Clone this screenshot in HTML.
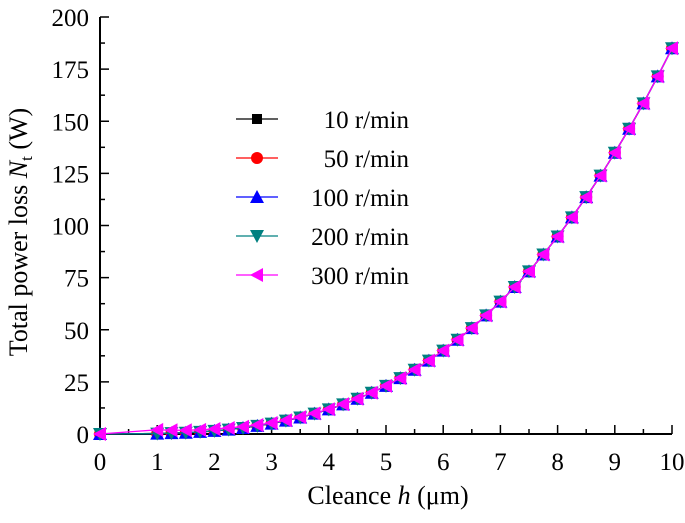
<!DOCTYPE html>
<html><head><meta charset="utf-8"><style>
body{margin:0;background:#fff}
svg text{font-family:"Liberation Serif",serif;fill:#000}
</style></head><body>
<svg id="c" width="685" height="518"></svg>
<script>
const hVals=[0,1,1.25,1.5,1.75,2,2.25,2.5,2.75,3,3.25,3.5,3.75,4,4.25,4.5,4.75,5,5.25,5.5,5.75,6,6.25,6.5,6.75,7,7.25,7.5,7.75,8,8.25,8.5,8.75,9,9.25,9.5,9.75,10];
const base=[0,0.2,0.4,0.6,1.0,1.5,2.1,2.9,3.9,5.0,6.4,7.9,9.8,11.8,14.2,16.9,19.8,23.1,26.8,30.8,35.2,40.0,45.2,50.8,56.9,63.5,70.5,78.0,86.1,94.7,103.9,113.6,123.9,134.9,146.4,158.6,171.5,185];
const s300=[0,2.0,1.8,1.8,2.0,2.4,2.9,3.5,4.3,5.3,6.6,8.1,9.9,11.9,14.3,16.9,19.8,23.1,26.8,30.8,35.2,40.0,45.2,50.8,56.9,63.5,70.5,78.0,86.1,94.7,103.9,113.6,123.9,134.9,146.4,158.6,171.5,185];
const seriesNames=["10 r/min","50 r/min","100 r/min","200 r/min","300 r/min"];
const seriesVals=[base,base,base,base,s300];
const xTicks=[0,1,2,3,4,5,6,7,8,9,10];
const yTicks=[0,25,50,75,100,125,150,175,200];
const colors=["#000","#f00","#00f","#008080","#f0f"];
const markers=["square","circle","up","down","left"];
const NS="http://www.w3.org/2000/svg",svg=document.getElementById("c");
const X0=100,X1=672,Y0=434,Y1=17;
const xs=v=>X0+(X1-X0)*v/10, ys=v=>Y0-(Y0-Y1)*v/200;
function mk(t,a,p){const e=document.createElementNS(NS,t);for(const k in a)e.setAttribute(k,a[k]);(p||svg).appendChild(e);return e;}
let ax=mk("line",{x1:X0,y1:Y0,x2:X1,y2:Y0,stroke:"#000","stroke-width":2});

ax=mk("line",{x1:X0,y1:Y0+1,x2:X0,y2:Y1,stroke:"#000","stroke-width":2});

for(let i=0;i<=20;i++){const v=i/2,x=xs(v);mk("line",{x1:x,y1:Y0,x2:x,y2:Y0-(i%2?5:9),stroke:"#000","stroke-width":1.5});}
xTicks.forEach(v=>{const t=mk("text",{x:xs(v),y:Y0+36,"text-anchor":"middle","font-size":25});t.textContent=v;
});
for(let i=0;i<=16;i++){const v=i*12.5,y=ys(v);mk("line",{x1:X0,y1:y,x2:X0+(i%2?5:9),y2:y,stroke:"#000","stroke-width":1.5});}
yTicks.forEach(v=>{const t=mk("text",{x:X0-11,y:ys(v)+9,"text-anchor":"end","font-size":25});t.textContent=v;
});
let t=mk("text",{x:388,y:504,"text-anchor":"middle","font-size":26});
t.innerHTML='Cleance <tspan font-style="italic">h</tspan> (μm)';

t=mk("text",{x:0,y:0,"text-anchor":"middle","font-size":26,transform:"translate(27,232) rotate(-90)"});
t.innerHTML='Total power loss <tspan font-style="italic">N</tspan><tspan font-size="17" dy="5">t</tspan><tspan dy="-5"> (W)</tspan>';

function marker(type,x,y,c,g){const r=6;
 if(type=="square")return mk("rect",{x:x-r+1,y:y-r+1,width:2*r-2,height:2*r-2,fill:c},g);
 if(type=="circle")return mk("circle",{cx:x,cy:y,r:r,fill:c},g);
 let p;if(type=="up")p=[[x,y-r-1],[x+r+1,y+r],[x-r-1,y+r]];
 else if(type=="down")p=[[x,y+r+1],[x+r+1,y-r],[x-r-1,y-r]];
 else p=[[x-r-1,y],[x+r,y-r-1],[x+r,y+r+1]];
 return mk("polygon",{points:p.map(q=>q.join(",")).join(" "),fill:c},g);}
seriesVals.forEach((vals,si)=>{
 const g=mk("g",{});
 mk("polyline",{points:hVals.map((h,i)=>xs(h)+","+ys(vals[i])).join(" "),fill:"none",stroke:colors[si],"stroke-width":1.3},g);
 hVals.forEach((h,i)=>{const m=marker(markers[si],xs(h),ys(vals[i]),colors[si],g);
  });
});
seriesNames.forEach((n,i)=>{const y=119+i*39;
 const g=mk("g",{});
 mk("line",{x1:236,y1:y,x2:278,y2:y,stroke:colors[i],"stroke-width":1.3},g);
 marker(markers[i],257,y,colors[i],g);
 const tt=mk("text",{x:409,y:y+9,"text-anchor":"end","font-size":25},g);tt.textContent=n;});
</script>
</body></html>
